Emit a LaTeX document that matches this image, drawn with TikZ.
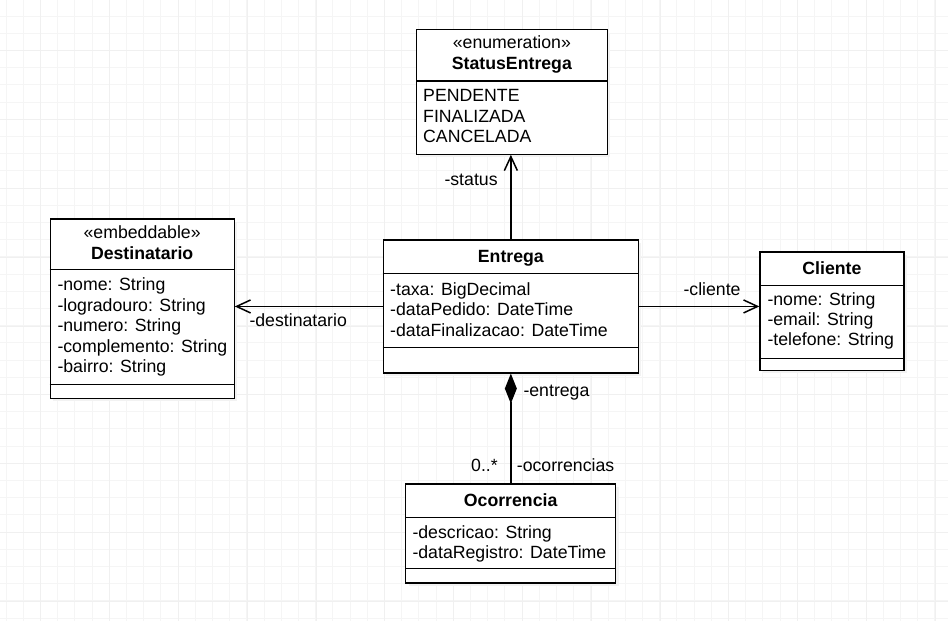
\documentclass[tikz,border=0pt]{standalone}
\usepackage{fontspec}
\setmainfont{Liberation Sans}
\usetikzlibrary{arrows.meta,shadows}

\begin{document}
\begin{tikzpicture}[x=1pt,y=-1pt,
  txt/.style={inner sep=0pt, font=\fontsize{17.7}{20.6}\selectfont},
  attr/.style={txt, anchor=base west, align=left},
  ttl/.style={txt, anchor=base, font=\fontsize{17.7}{20.6}\selectfont\bfseries},
  stereo/.style={txt, anchor=base},
  umlbox/.style={draw=black, line width=1.3pt, fill=white, inner sep=0pt, anchor=north west,
    drop shadow={shadow xshift=3pt, shadow yshift=-3pt, fill=black!5, opacity=1}},
  divider/.style={line width=1.3pt},
  assoc/.style={line width=1.5pt, -{Straight Barb[length=14pt, width=13pt, line width=1.5pt]}},
  compos/.style={line width=1.5pt, {Diamond[length=30pt, width=12pt, fill=black]}-},
  lbl/.style={txt, anchor=base west},
  minorgrid/.style={line width=0.8pt, black!4},
  majorgrid/.style={line width=0.8pt, black!6},
]
% canvas and background grid
\useasboundingbox (0,0) rectangle (948,621);
\fill[white] (0,0) rectangle (948,621);
\foreach \i in {0,...,55} {
  \draw[minorgrid] ({6+17.2*\i},0) -- ({6+17.2*\i},621);
}
\foreach \j in {0,...,36} {
  \draw[minorgrid] (0,{16+17.2*\j}) -- (948,{16+17.2*\j});
}
\foreach \i in {0,...,13} {
  \draw[majorgrid] ({40.7+68.8*\i},0) -- ({40.7+68.8*\i},621);
}
\foreach \j in {0,...,8} {
  \draw[majorgrid] (0,{50.7+68.8*\j}) -- (948,{50.7+68.8*\j});
}

% StatusEntrega (enumeration)
\node[umlbox, minimum width=190.5pt, minimum height=124.5pt] (status) at (416,29) {};
\draw[divider] (status.west |- 0,81) -- (status.east |- 0,81);
\node[stereo] (statusst) at (status.center |- 0,48.5) {«enumeration»};
\node[ttl] (statusnm) at (status.center |- 0,69.5) {StatusEntrega};
\node[attr] (statusv1) at (423,101.7) {PENDENTE};
\node[attr] (statusv2) at (423,122.3) {FINALIZADA};
\node[attr] (statusv3) at (423,142.9) {CANCELADA};

% Destinatario (embeddable)
\node[umlbox, minimum width=184pt, minimum height=179.5pt] (dest) at (49.5,218.3) {};
\draw[divider] (dest.west |- 0,269.3) -- (dest.east |- 0,269.3);
\draw[divider] (dest.west |- 0,384.3) -- (dest.east |- 0,384.3);
\node[stereo] (destst) at (dest.center |- 0,238.6) {«embeddable»};
\node[ttl] (destnm) at (dest.center |- 0,259.2) {Destinatario};
\node[attr] (desta1) at (57.3,290.5) {-nome: String};
\node[attr] (desta2) at (57.3,311.1) {-logradouro: String};
\node[attr] (desta3) at (57.3,331.7) {-numero: String};
\node[attr] (desta4) at (57.3,352.3) {-complemento: String};
\node[attr] (desta5) at (57.3,372.9) {-bairro: String};

% Entrega
\node[umlbox, minimum width=255pt, minimum height=133pt] (entrega) at (382.7,239.3) {};
\draw[divider] (entrega.west |- 0,273.3) -- (entrega.east |- 0,273.3);
\draw[divider] (entrega.west |- 0,347.3) -- (entrega.east |- 0,347.3);
\node[ttl] (entreganm) at (entrega.center |- 0,262.3) {Entrega};
\node[attr] (entregaa1) at (390,295) {-taxa: BigDecimal};
\node[attr] (entregaa2) at (390,315.6) {-dataPedido: DateTime};
\node[attr] (entregaa3) at (390,336.2) {-dataFinalizacao: DateTime};

% Cliente
\node[umlbox, minimum width=144pt, minimum height=118.5pt] (cliente) at (759.3,251.3) {};
\draw[divider] (cliente.west |- 0,285.3) -- (cliente.east |- 0,285.3);
\draw[divider] (cliente.west |- 0,358.5) -- (cliente.east |- 0,358.5);
\node[ttl] (clientenm) at (cliente.center |- 0,274.7) {Cliente};
\node[attr] (clientea1) at (767.3,305.3) {-nome: String};
\node[attr] (clientea2) at (767.3,325.6) {-email: String};
\node[attr] (clientea3) at (767.3,345.9) {-telefone: String};

% Ocorrencia
\node[umlbox, minimum width=210pt, minimum height=99pt] (ocorr) at (405,483.3) {};
\draw[divider] (ocorr.west |- 0,517.3) -- (ocorr.east |- 0,517.3);
\draw[divider] (ocorr.west |- 0,568.5) -- (ocorr.east |- 0,568.5);
\node[ttl] (ocorrnm) at (ocorr.center |- 0,506) {Ocorrencia};
\node[attr] (ocorra1) at (412.3,538.3) {-descricao: String};
\node[attr] (ocorra2) at (412.3,558.6) {-dataRegistro: DateTime};

% associations
\draw[assoc] (entrega.north) -- (entrega.north |- status.south);
\node[lbl] (lstatus) at (444.3,185.7) {-status};

\draw[assoc] (entrega.west) -- (entrega.west -| dest.east);
\node[lbl] (ldest) at (249.3,326.7) {-destinatario};

\draw[assoc] (entrega.east) -- (entrega.east -| cliente.west);
\node[lbl] (lcliente) at (683.3,295.7) {-cliente};

% composition Entrega <>-- Ocorrencia
\draw[compos] (entrega.south) -- (entrega.south |- ocorr.north);
\node[lbl] (lentrega) at (523.3,396.7) {-entrega};
\node[lbl] (lmult) at (471,471.7) {0..*};
\node[lbl] (locorr) at (516.7,471.7) {-ocorrencias};
\end{tikzpicture}
\end{document}
